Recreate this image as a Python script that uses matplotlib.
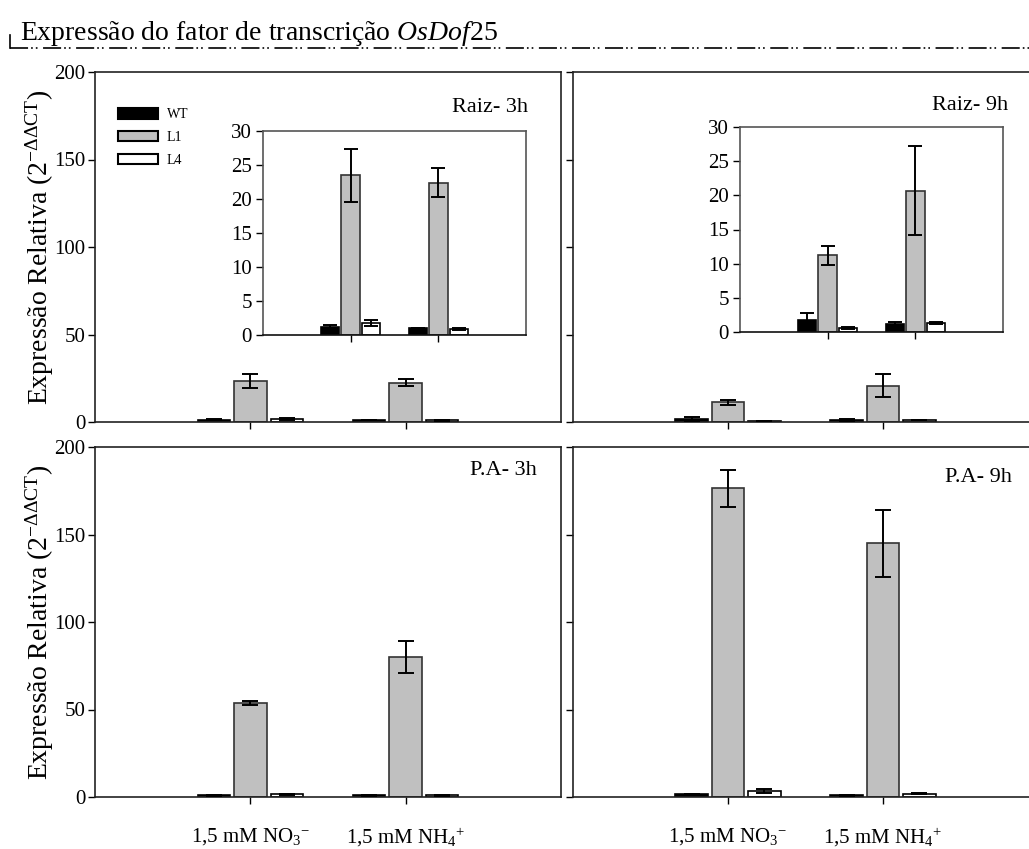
import matplotlib
matplotlib.use("Agg")
import matplotlib.pyplot as plt
import numpy as np
from matplotlib.lines import Line2D
from matplotlib.patches import Patch

plt.rcParams['font.family'] = ['Liberation Serif', 'DejaVu Serif']
plt.rcParams['mathtext.fontset'] = 'custom'
plt.rcParams['mathtext.rm'] = 'Liberation Serif'
plt.rcParams['mathtext.it'] = 'Liberation Serif:italic'
plt.rcParams['mathtext.bf'] = 'Liberation Serif:bold'
plt.rcParams['lines.scale_dashes'] = False

# ---------------- data ----------------
categories = ["1,5 mM NO$_3$$^{-}$", "1,5 mM NH$_4$$^{+}$"]
series = ["WT", "L1", "L4"]

raiz3_vals = {"WT": [1.2, 1.0], "L1": [23.5, 22.4], "L4": [1.8, 0.9]}
raiz3_err = {"WT": [0.25, 0.1], "L1": [3.9, 2.1], "L4": [0.45, 0.1]}

raiz9_vals = {"WT": [1.7, 1.1], "L1": [11.2, 20.7], "L4": [0.6, 1.3]}
raiz9_err = {"WT": [1.1, 0.4], "L1": [1.4, 6.5], "L4": [0.1, 0.1]}

pa3_vals = {"WT": [0.9, 0.9], "L1": [53.5, 80.0], "L4": [1.5, 1.0]}
pa3_err = {"WT": [0.2, 0.2], "L1": [1.2, 9.0], "L4": [0.2, 0.2]}

pa9_vals = {"WT": [1.5, 1.0], "L1": [176.5, 145.0], "L4": [3.5, 1.8]}
pa9_err = {"WT": [0.4, 0.3], "L1": [10.5, 19.0], "L4": [1.2, 0.3]}

panel_titles = ["Raiz- 3h", "Raiz- 9h", "P.A- 3h", "P.A- 9h"]
main_yticks = [0, 50, 100, 150, 200]
inset_yticks = [0, 5, 10, 15, 20, 25, 30]

colors = {"WT": "#000000", "L1": "#c0c0c0", "L4": "#ffffff"}
edges = {"WT": "#000000", "L1": "#333333", "L4": "#000000"}

W, H = 1029, 849
fig = plt.figure(figsize=(W / 100, H / 100), dpi=100)

def fx(px):
    return px / W

def fy(py):
    return 1 - py / H

x = np.array([1.0, 2.0])
offsets = {"WT": -0.235, "L1": 0.0, "L4": 0.235}
bw = 0.21

def draw_bars(ax, vals, errs, capsize=6, elw=1.4):
    for s in series:
        ax.bar(x + offsets[s], vals[s], width=bw, color=colors[s],
               edgecolor=edges[s], linewidth=1.2, zorder=2)
        ax.errorbar(x + offsets[s], vals[s], yerr=errs[s], fmt='none',
                    ecolor='black', elinewidth=elw, capsize=capsize,
                    capthick=elw, zorder=3)

def style_main(ax, ylabels=True, xlabels=False):
    ax.set_xlim(0, 3)
    ax.set_ylim(0, 200)
    ax.set_yticks(main_yticks)
    ax.set_xticks(x)
    if xlabels:
        ax.set_xticklabels(categories, fontsize=15)
    else:
        ax.set_xticklabels([])
    if not ylabels:
        ax.set_yticklabels([])
    ax.tick_params(axis='y', direction='out', length=5, width=1, labelsize=15, pad=2)
    ax.tick_params(axis='x', direction='out', length=5, width=1, pad=16)
    for sp in ax.spines.values():
        sp.set_linewidth(1.2)
        sp.set_color('#222222')

def style_inset(ax):
    ax.set_xlim(0, 3)
    ax.set_ylim(0, 30)
    ax.set_yticks(inset_yticks)
    ax.set_xticks(x)
    ax.set_xticklabels([])
    ax.tick_params(axis='y', direction='out', length=5, width=1, labelsize=15, pad=3)
    ax.tick_params(axis='x', direction='out', length=5, width=1)
    for sp in ax.spines.values():
        sp.set_linewidth(1.2)
        sp.set_color('#555555')
    ax.spines['bottom'].set_color('#111111')

# main axes
ax_tl = fig.add_axes([fx(95), fy(422), fx(466), 350 / H])
ax_tr = fig.add_axes([fx(573), fy(422), fx(465), 350 / H])
ax_bl = fig.add_axes([fx(95), fy(797), fx(466), 350 / H])
ax_br = fig.add_axes([fx(573), fy(797), fx(465), 350 / H])

draw_bars(ax_tl, raiz3_vals, raiz3_err)
draw_bars(ax_tr, raiz9_vals, raiz9_err)
draw_bars(ax_bl, pa3_vals, pa3_err)
draw_bars(ax_br, pa9_vals, pa9_err)

style_main(ax_tl, ylabels=True)
style_main(ax_tr, ylabels=False)
style_main(ax_bl, ylabels=True, xlabels=True)
style_main(ax_br, ylabels=False, xlabels=True)

# insets
in_l = fig.add_axes([fx(263), fy(335), fx(263), 204 / H])
in_r = fig.add_axes([fx(740), fy(332), fx(263), 205 / H])
draw_bars(in_l, raiz3_vals, raiz3_err, capsize=5)
draw_bars(in_r, raiz9_vals, raiz9_err, capsize=5)
style_inset(in_l)
style_inset(in_r)

# panel labels
ax_tl.text(0.929, 0.886, panel_titles[0], transform=ax_tl.transAxes,
           ha='right', va='baseline', fontsize=16)
ax_tr.text(0.935, 0.891, panel_titles[1], transform=ax_tr.transAxes,
           ha='right', va='baseline', fontsize=16)
ax_bl.text(0.948, 0.92, panel_titles[2], transform=ax_bl.transAxes,
           ha='right', va='baseline', fontsize=16)
ax_br.text(0.944, 0.90, panel_titles[3], transform=ax_br.transAxes,
           ha='right', va='baseline', fontsize=16)

# legend
handles = [Patch(facecolor=colors[s], edgecolor='black', linewidth=1.5, label=s)
           for s in series]
ax_tl.legend(handles=handles, loc='upper left',
             bbox_to_anchor=((118 - 95) / 466, (422 - 108) / 350),
             frameon=False, fontsize=10, handlelength=2.9, handleheight=0.8,
             labelspacing=0.7, handletextpad=0.6, borderpad=0, borderaxespad=0)

# y labels
ylab = "Expressão Relativa (2$^{\\mathrm{-\\Delta\\Delta CT}}$)"
for ycen in [247, 622]:
    fig.text(fx(40), fy(ycen), ylab, rotation=90, ha='center', va='center',
             fontsize=20)

# title and decorative line
fig.text(fx(20), fy(40), "Expressão do fator de transcrição $\\mathit{OsDof25}$",
         fontsize=20, ha='left', va='baseline')
fig.add_artist(Line2D([fx(10), 1.0], [fy(48), fy(48)], color='black', linewidth=1.2,
                      linestyle=(0, (13, 2.2, 1.2, 2.2, 1.2, 4))))
fig.add_artist(Line2D([fx(10), fx(10)], [fy(35), fy(48)], color='black', linewidth=1.2))

fig.savefig("out.png", dpi=100)
